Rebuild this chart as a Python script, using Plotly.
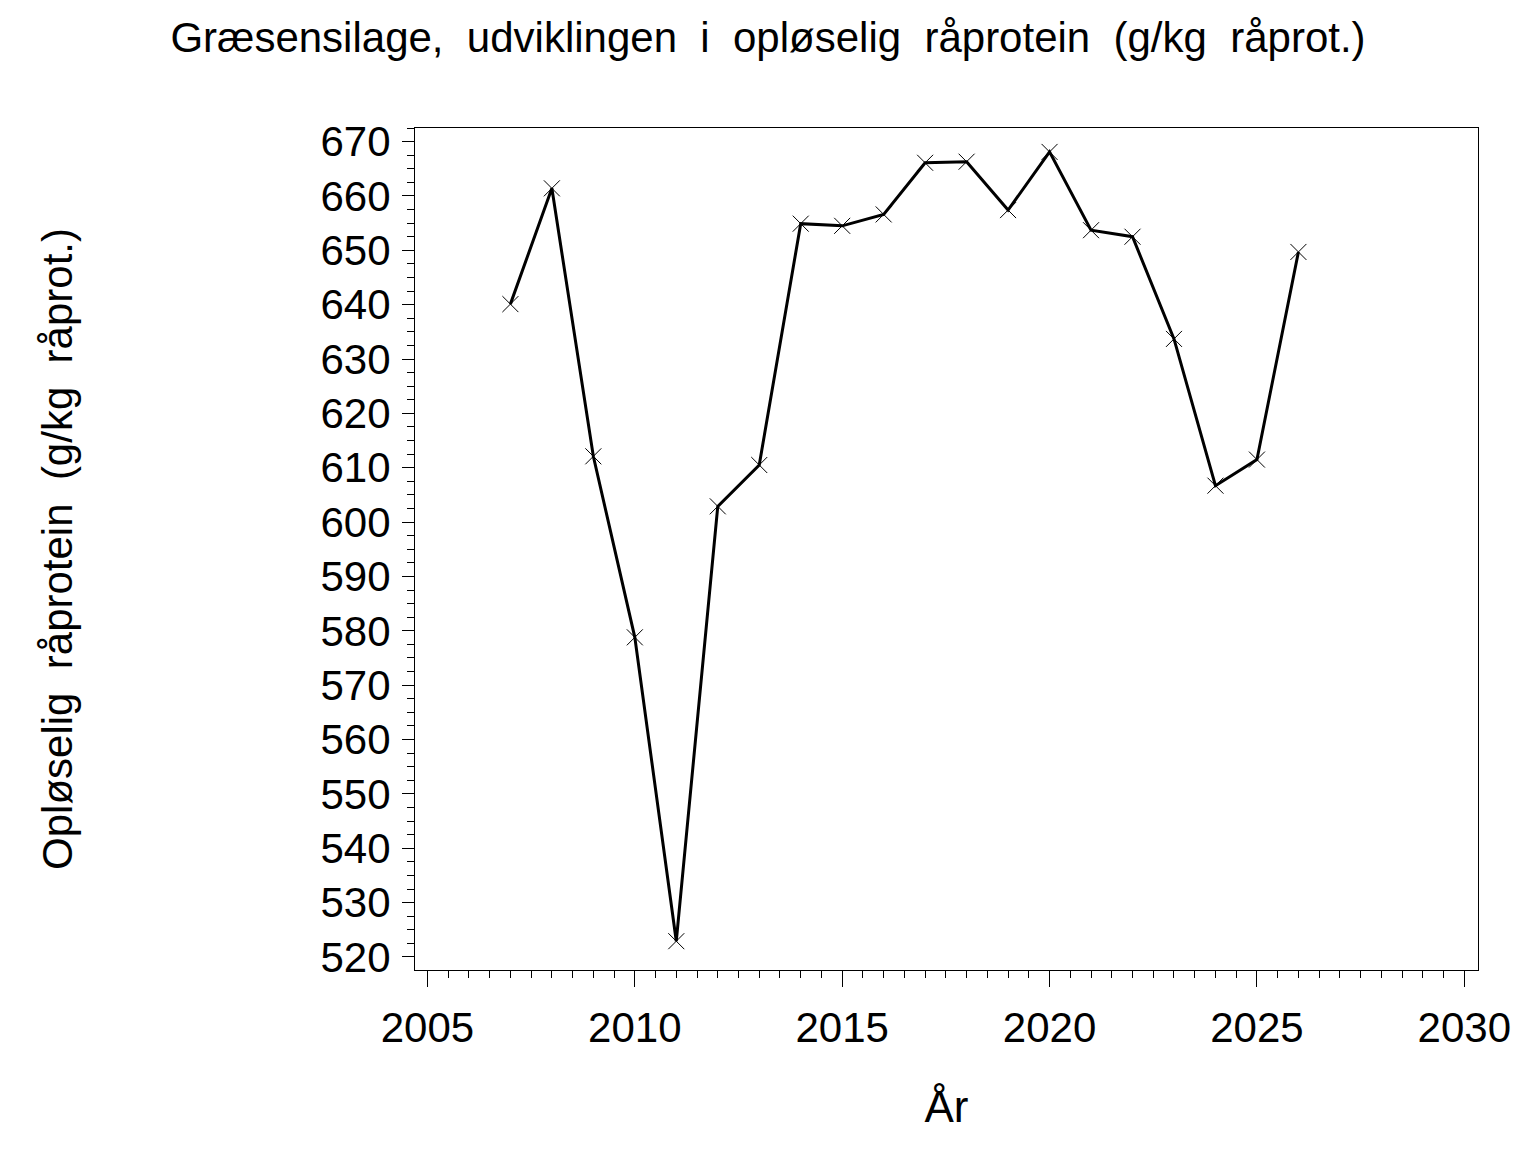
import plotly.graph_objects as go

# Græsensilage - opløselig råprotein pr. år
years = [2007, 2008, 2009, 2010, 2011, 2012, 2013, 2014, 2015, 2016,
         2017, 2018, 2019, 2020, 2021, 2022, 2023, 2024, 2025, 2026]
soluble_protein = [640.1, 661.4, 612.1, 578.8, 522.9, 602.9, 610.5, 654.9, 654.5, 656.6,
                   666.1, 666.3, 657.4, 668.1, 653.7, 652.5, 633.7, 606.7, 611.5, 649.7]

x_ticks = [2005, 2010, 2015, 2020, 2025, 2030]
y_ticks = list(range(520, 671, 10))

font_name = "Liberation Sans, Arial, sans-serif"

# the page puts an 8px body margin round the figure, so it is 8px smaller here
W, H = 1528, 1144

fig = go.Figure(go.Scatter(
    x=years, y=soluble_protein,
    mode="lines+markers",
    line=dict(color="black", width=3),
    marker=dict(symbol="x-thin", size=16, line=dict(color="black", width=1)),
    showlegend=False))

fig.update_layout(
    width=W, height=H,
    paper_bgcolor="white", plot_bgcolor="white",
    margin=dict(l=407, r=58, t=120, b=182),
    font=dict(family=font_name, color="black"),
    title=dict(text="Græsensilage,  udviklingen  i  opløselig  råprotein  (g/kg  råprot.)",
               x=(768 - 8) / W, xanchor="center", y=1 - 29 / H, yanchor="middle",
               font=dict(size=42)),
)

fig.update_xaxes(
    range=[2004.7, 2030.33],
    tickvals=x_ticks, ticktext=[str(v) for v in x_ticks],
    ticks="outside", ticklen=16, tickwidth=1, tickcolor="black",
    minor=dict(dtick=0.5, tick0=2005, ticks="outside", ticklen=7, tickwidth=1, tickcolor="black"),
    tickfont=dict(size=42), ticklabelstandoff=5,
    showline=True, linecolor="black", linewidth=1, mirror=True,
    showgrid=False, zeroline=False,
    title=dict(text="År", font=dict(size=44), standoff=40),
)

fig.update_yaxes(
    range=[517.6, 672.5],
    tickvals=y_ticks, ticktext=[str(v) for v in y_ticks],
    ticks="outside", ticklen=12, tickwidth=1, tickcolor="black",
    minor=dict(dtick=2.5, tick0=520, ticks="outside", ticklen=7, tickwidth=1, tickcolor="black"),
    tickfont=dict(size=42), ticklabelstandoff=3,
    showline=True, linecolor="black", linewidth=1, mirror=True,
    showgrid=False, zeroline=False,
    title=dict(text="Opløselig  råprotein  (g/kg  råprot.)", font=dict(size=42), standoff=234),
)

fig.write_html("out.html")
